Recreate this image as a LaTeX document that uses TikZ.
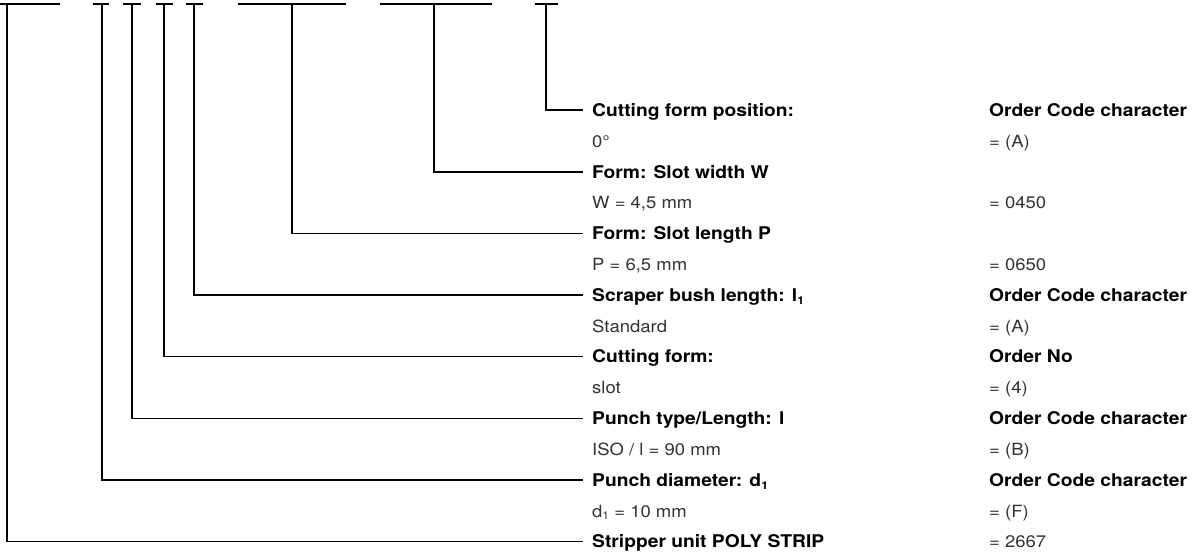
\documentclass[tikz,border=0pt]{standalone}
\usepackage{fontspec}
\setmainfont{TeX Gyre Heros}[FakeStretch=1.1]
\newcommand\subone{\raisebox{-0.3ex}{\fontsize{11}{11}\selectfont 1}}
\begin{document}
\begin{tikzpicture}[x=1pt,y=-1pt,
  bar/.style={line width=1.6pt},
  lead/.style={line width=1.6pt},
  head/.style={anchor=base west,inner sep=0pt,font=\fontsize{17.5}{18}\selectfont\bfseries},
  val/.style={anchor=base west,inner sep=0pt,text=black!80,font=\fontsize{16.8}{18}\selectfont}]
\useasboundingbox (0,0) rectangle (1198,551);
% top bars
\coordinate (v14) at (7,4);
\coordinate (v12) at (102,4);
\coordinate (v10) at (132,4);
\coordinate (v8) at (164,4);
\coordinate (v6) at (194,4);
\coordinate (v4) at (292,4);
\coordinate (v2) at (434,4);
\coordinate (v0) at (546,4);
\draw[bar] (0,4) -- (60,4);
\draw[bar] (93,4) -- (109,4);
\draw[bar] (123,4) -- (141,4);
\draw[bar] (156,4) -- (173,4);
\draw[bar] (186,4) -- (203,4);
\draw[bar] (238,4) -- (346,4);
\draw[bar] (380,4) -- (492,4);
\draw[bar] (535,4) -- (558,4);
% left column
\node[head] (h0) at (592,116.3) {Cutting form position:};
\node[val]  (l1) at (592,147.1) {0°};
\node[head] (h2) at (592,178) {Form: Slot width W};
\node[val]  (l3) at (592,208.8) {W = 4,5 mm};
\node[head] (h4) at (592,239.6) {Form: Slot length P};
\node[val]  (l5) at (592,270.5) {P = 6,5 mm};
\node[head] (h6) at (592,301.3) {Scraper bush length: l\subone};
\node[val]  (l7) at (592,332.1) {Standard};
\node[head] (h8) at (592,362.9) {Cutting form:};
\node[val]  (l9) at (592,393.8) {slot};
\node[head] (h10) at (592,424.6) {Punch type/Length: l};
\node[val]  (l11) at (592,455.4) {ISO / l = 90 mm};
\node[head] (h12) at (592,486.3) {Punch diameter: d\subone};
\node[val]  (l13) at (592,517.1) {d\subone{} = 10 mm};
\node[head] (h14) at (592,547.9) {Stripper unit POLY STRIP};
% right column
\node[head] (r0) at (989,116.3) {Order Code character};
\node[val]  (r1) at (989,147.1) {= (A)};
\node[val]  (r3) at (989,208.8) {= 0450};
\node[val]  (r5) at (989,270.5) {= 0650};
\node[head] (r6) at (989,301.3) {Order Code character};
\node[val]  (r7) at (989,332.1) {= (A)};
\node[head] (r8) at (989,362.9) {Order No};
\node[val]  (r9) at (989,393.8) {= (4)};
\node[head] (r10) at (989,424.6) {Order Code character};
\node[val]  (r11) at (989,455.4) {= (B)};
\node[head] (r12) at (989,486.3) {Order Code character};
\node[val]  (r13) at (989,517.1) {= (F)};
\node[val]  (r14) at (989,547.9) {= 2667};
% leaders
\foreach \k in {0,2,4,6,8,10,12,14}
  \draw[lead] (v\k) |- ([shift={(-9pt,6.3pt)}]h\k.base west);
\end{tikzpicture}
\end{document}
